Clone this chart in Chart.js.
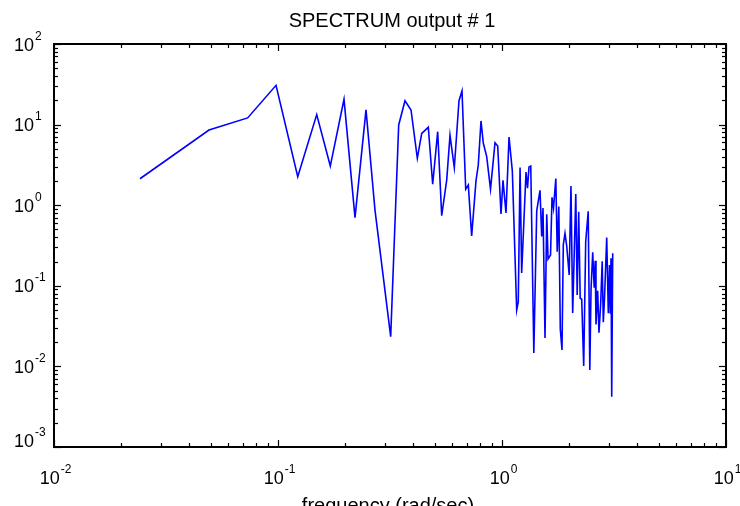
<!DOCTYPE html>
<html>
<head>
<meta charset="utf-8">
<script src="https://cdn.jsdelivr.net/npm/chart.js@4/dist/chart.umd.min.js"></script>
<style>
  body { margin: 0; background: #fff; }
  #wrap { width: 740px; height: 506px; }
</style>
</head>
<body>
<div id="wrap"><canvas id="spectrum" width="740" height="506"></canvas></div>
<script>
// frequency (rad/sec) and spectrum magnitude
const freq = [
  0.0242, 0.0492, 0.0732, 0.098, 0.1225, 0.1489, 0.1712, 0.1971, 0.2207, 0.2471,
  0.271, 0.3185, 0.3458, 0.3689, 0.3925, 0.4188, 0.4381, 0.4688, 0.4904, 0.5163,
  0.538, 0.5664, 0.586, 0.6125, 0.6427, 0.6629, 0.6886, 0.7073, 0.7321, 0.7653,
  0.7837, 0.8058, 0.825, 0.8545, 0.8886, 0.9307, 0.9568, 0.9897, 1.0104, 1.042,
  1.075, 1.112, 1.163, 1.182, 1.204, 1.224, 1.28, 1.3, 1.32, 1.344,
  1.387, 1.429, 1.478, 1.504, 1.524, 1.556, 1.584, 1.605, 1.647, 1.672,
  1.698, 1.739, 1.764, 1.793, 1.821, 1.853, 1.878, 1.911, 1.945, 1.995,
  2.032, 2.068, 2.135, 2.166, 2.2, 2.234, 2.269, 2.316, 2.364, 2.426,
  2.466, 2.497, 2.541, 2.58, 2.607, 2.628, 2.674, 2.71, 2.758, 2.801,
  2.833, 2.87, 2.934, 2.983, 3.02, 3.045, 3.067, 3.089, 3.121
];
const spectrum = [
  2.13, 8.57, 12.1, 30.7, 2.26, 13.3, 3.06, 20.6, 0.70, 15.2,
  0.87, 0.0234, 9.9, 19.8, 15.2, 3.82, 7.8, 9.26, 1.82, 8.17,
  0.74, 2.05, 7.36, 2.92, 19.8, 26.1, 1.58, 1.78, 0.415, 2.0,
  3.15, 11.1, 5.91, 4.0, 1.58, 5.96, 5.43, 0.78, 2.03, 0.80,
  7.02, 2.66, 0.050, 0.063, 2.94, 0.144, 2.58, 1.63, 2.98, 3.06,
  0.0147, 0.85, 1.53, 0.41, 0.92, 0.0225, 0.77, 0.215, 0.241, 1.25,
  0.92, 2.14, 0.265, 0.96, 0.029, 0.016, 0.325, 0.448, 0.312, 0.136,
  1.73, 0.046, 1.38, 0.077, 0.83, 0.070, 0.068, 0.0101, 0.352, 0.84,
  0.0090, 0.0894, 0.261, 0.0944, 0.204, 0.0331, 0.087, 0.0262, 0.0607, 0.202,
  0.0353, 0.0726, 0.397, 0.0456, 0.181, 0.045, 0.219, 0.00421, 0.253
];

// decade exponents used for tick labels (10^n)
const xDecades = [-2, -1, 0, 1];
const yDecades = [-3, -2, -1, 0, 1, 2];

const titleText = 'SPECTRUM output # 1';
const xLabelText = 'frequency (rad/sec)';

const FONT = '"Liberation Sans", Arial, sans-serif';

// draws "10" with a raised exponent
function powerLabel(ctx, exp, x, baseline, align) {
  ctx.font = '18px ' + FONT;
  const base = '10';
  const w1 = ctx.measureText(base).width;
  ctx.font = '12px ' + FONT;
  const e = String(exp);
  const w2 = ctx.measureText(e).width;
  let start;
  if (align === 'center') start = x - (w1 + w2) / 2;
  else start = x - w1; // "10" ends at x, exponent follows
  ctx.textAlign = 'left';
  ctx.textBaseline = 'alphabetic';
  ctx.font = '18px ' + FONT;
  ctx.fillText(base, start, baseline);
  ctx.font = '12px ' + FONT;
  ctx.fillText(e, start + w1 + 1, baseline - 11);
}

const frame = {
  id: 'frame',
  afterDraw(chart) {
    const { ctx, chartArea: a, scales: { x, y } } = chart;
    ctx.save();
    ctx.fillStyle = '#000';
    ctx.strokeStyle = '#000';

    // ticks on all four sides, pointing inward
    const tick = (x1, y1, x2, y2, lw) => {
      ctx.lineWidth = lw;
      ctx.beginPath();
      ctx.moveTo(x1, y1);
      ctx.lineTo(x2, y2);
      ctx.stroke();
    };
    for (let i = 0; i < xDecades.length; i++) {
      const d = xDecades[i];
      for (let m = 1; m <= 9; m++) {
        if (i === xDecades.length - 1 && m > 1) break;
        const px = Math.round(x.getPixelForValue(m * Math.pow(10, d))) + 0.5;
        const len = m === 1 ? 7 : 4;
        tick(px, a.bottom, px, a.bottom - len, 1.2);
        tick(px, a.top, px, a.top + len, 1.2);
      }
    }
    for (let i = 0; i < yDecades.length; i++) {
      const d = yDecades[i];
      for (let m = 1; m <= 9; m++) {
        if (i === yDecades.length - 1 && m > 1) break;
        const py = Math.round(y.getPixelForValue(m * Math.pow(10, d))) + 0.5;
        const len = m === 1 ? 7 : 4;
        tick(a.left, py, a.left + len, py, 1.2);
        tick(a.right, py, a.right - len, py, 1.2);
      }
    }

    // box
    ctx.lineWidth = 2;
    ctx.strokeRect(a.left, a.top, a.right - a.left, a.bottom - a.top);

    // tick labels
    xDecades.forEach(d => {
      powerLabel(ctx, d, x.getPixelForValue(Math.pow(10, d)) + 1, 484, 'center');
    });
    yDecades.forEach(d => {
      const py = y.getPixelForValue(Math.pow(10, d));
      powerLabel(ctx, d, a.left - 20, Math.min(py + 6.5, a.bottom), 'right');
    });

    // title and x label
    ctx.textAlign = 'center';
    ctx.textBaseline = 'alphabetic';
    ctx.font = '20px ' + FONT;
    ctx.fillText(titleText, (a.left + a.right) / 2 + 2, 27);
    ctx.fillText(xLabelText, (a.left + a.right) / 2 - 2, 512);
    ctx.restore();
  }
};

new Chart(document.getElementById('spectrum'), {
  type: 'line',
  data: {
    datasets: [{
      label: titleText,
      data: freq.map((f, i) => ({ x: f, y: spectrum[i] })),
      borderColor: '#0000ff',
      borderWidth: 1.6,
      pointRadius: 0,
      tension: 0,
      fill: false,
    }],
  },
  options: {
    responsive: false,
    animation: false,
    layout: { padding: { left: 54, right: 14, top: 44, bottom: 59 } },
    plugins: {
      legend: { display: false },
      title: { display: false },
      tooltip: { enabled: false },
    },
    scales: {
      x: { type: 'logarithmic', min: 0.01, max: 10, display: false },
      y: { type: 'logarithmic', min: 0.001, max: 100, display: false },
    },
  },
  plugins: [frame],
});
</script>
</body>
</html>
